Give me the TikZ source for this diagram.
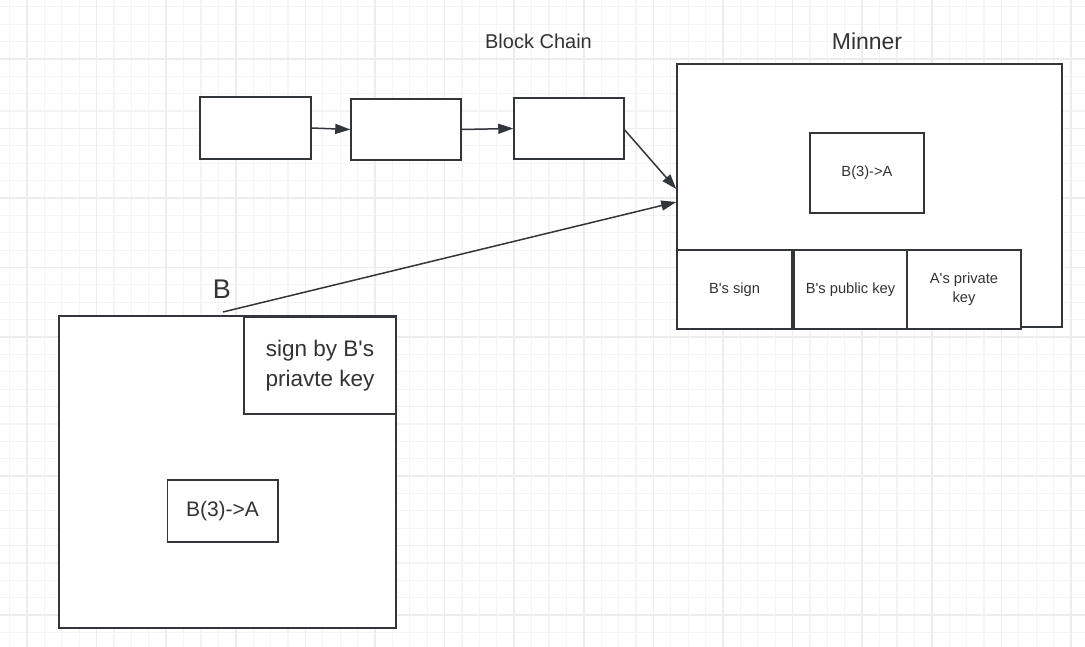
\documentclass[tikz,border=0pt]{standalone}
\usepackage{fontspec}
\setmainfont{Liberation Sans}[Ligatures=TeXOff]
\usetikzlibrary{arrows.meta}
\definecolor{linec}{RGB}{50,54,59}
\definecolor{textc}{RGB}{51,51,51}
\definecolor{gridminor}{RGB}{244,244,244}
\definecolor{gridmajor}{RGB}{237,237,237}
\begin{document}
\begin{tikzpicture}[x=1pt,y=-1pt,
  box/.style={draw=linec,line width=1.5pt,fill=white,inner sep=0pt,text=textc,align=center},
  conn/.style={draw=linec,line width=1.5pt,-{Triangle[length=15pt,width=10pt]}},
  lbl/.style={text=textc,inner sep=0pt},
  small/.style={font=\fontsize{14.7}{19}\selectfont},
  mid/.style={font=\fontsize{21}{26}\selectfont},
  big/.style={font=\fontsize{22.5}{30}\selectfont}]
\useasboundingbox (0,0) rectangle (1085,647);
\fill[white] (0,0) rectangle (1085,647);
% grid
\foreach \i in {0,...,62} {
  \draw[gridminor,line width=1.2pt] ({9.6+17.4*\i},0) -- ({9.6+17.4*\i},647);
}
\foreach \j in {0,...,37} {
  \draw[gridminor,line width=1.2pt] (0,{6.8+17.38*\j}) -- (1085,{6.8+17.38*\j});
}
\foreach \i in {0,...,15} {
  \draw[gridmajor,line width=1.6pt] ({27+69.6*\i},0) -- ({27+69.6*\i},647);
}
\foreach \j in {0,...,9} {
  \draw[gridmajor,line width=1.6pt] (0,{-10.5+69.5*\j}) -- (1085,{-10.5+69.5*\j});
}
% titles
\node[lbl,font=\fontsize{20}{24}\selectfont] (tbc) at (538.5,41) {Block Chain};
\node[lbl,font=\fontsize{23}{27}\selectfont] (tmin) at (867,41) {Minner};
\node[lbl,font=\fontsize{27}{32}\selectfont] (tb) at (222,289) {B};
% block chain
\node[box,minimum width=111pt,minimum height=62pt] (b1) at (255.5,128) {};
\node[box,minimum width=110pt,minimum height=61pt] (b2) at (406,129.5) {};
\node[box,minimum width=110pt,minimum height=61pt] (b3) at (569,128.5) {};
% miner
\node[box,minimum width=385pt,minimum height=263pt] (miner) at (869.5,195.5) {};
\node[box,small,minimum width=114pt,minimum height=80pt] (mtx) at (867,173) {B(3)->A};
\node[box,small,minimum width=115pt,minimum height=79pt] (s1) at (734.5,289.5) {B's sign};
\node[box,small,minimum width=113pt,minimum height=79pt] (s2) at (850.5,289.5) {B's public key};
\node[box,small,minimum width=114pt,minimum height=79pt] (s3) at (964,289.5) {A's private\\key};
% B
\node[box,minimum width=337pt,minimum height=312pt] (bbox) at (227.5,472) {};
\node[box,big,minimum width=152pt,minimum height=97pt] (sig) at (320,365.5) {sign by B's\\priavte key};
\node[box,mid,minimum width=110.5pt,minimum height=62pt] (btx) at (222.5,511) {B(3)->A};
% connectors
\coordinate (bstart) at (223,312);
\draw[conn] (b1.east) -- (b2.west);
\draw[conn] (b2.east) -- (b3.west);
\draw[conn] ([yshift=-1.5pt]b3.east) -- ([yshift=6.5pt]miner.west);
\draw[conn] (bstart) -- ([yshift=-6.5pt]miner.west);
\end{tikzpicture}
\end{document}
